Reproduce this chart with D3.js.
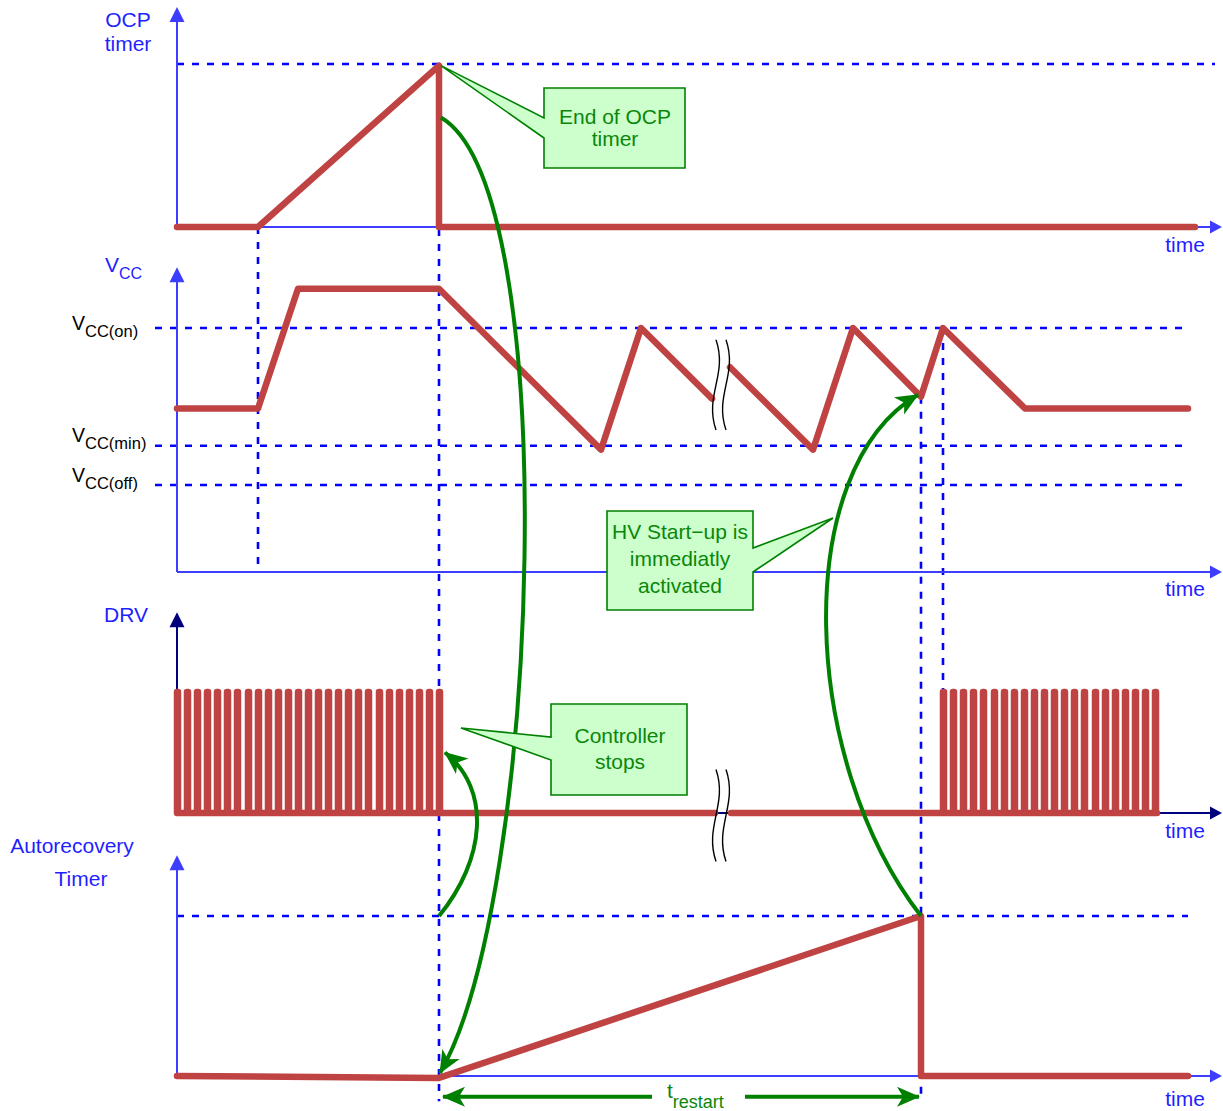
<!DOCTYPE html>
<html><head><meta charset="utf-8">
<script src="https://cdn.jsdelivr.net/npm/d3@7"></script>
<style>body{margin:0;background:#fff}svg{display:block}text{font-family:"Liberation Sans",Arial,sans-serif}</style>
</head><body><svg id="c" width="1223" height="1111"></svg>
<script>
// ---------- data (time in arbitrary units) ----------
const ocpTime  = [0, 8.1, 26.2, 26.2, 101.8];
const ocpValue = [0, 0, 0.99, 0, 0];

const vccTimeA  = [0, 8.1, 12.1, 26.2, 42.4, 46.4, 53.5];
const vccValueA = [11.9, 11.9, 18, 18, 9.8, 16, 12.4];
const vccTimeB  = [55.3, 63.6, 67.6, 74.4, 76.6, 84.8, 101.1];
const vccValueB = [14.0, 9.8, 16, 12.5, 16, 11.9, 11.9];
const vccLevelNames  = ["CC(on)", "CC(min)", "CC(off)"];
const vccLevelValues = [16, 10, 8];

const drvPulsesA = [0, 1.0, 2.0, 3.0, 4.0, 5.0, 6.0, 7.1, 8.1, 9.1, 10.1, 11.1, 12.1, 13.1,
  14.1, 15.1, 16.1, 17.1, 18.1, 19.1, 20.2, 21.2, 22.2, 23.2, 24.2, 25.2, 26.2];
const drvPulsesB = [76.6, 77.6, 78.6, 79.6, 80.6, 81.7, 82.7, 83.7, 84.7, 85.7, 86.7, 87.7,
  88.7, 89.7, 90.7, 91.8, 92.8, 93.8, 94.8, 95.8, 96.8, 97.8];
const drvBreak = [53.8, 55.4];

const autoTime  = [0, 26.2, 74.4, 74.4, 101.1];
const autoValue = [0, -0.012, 1, 0, 0];

// ---------- scales ----------
const x = d3.scaleLinear().domain([0, 104.5]).range([177, 1222]);
const yOcp  = d3.scaleLinear().domain([0, 1]).range([227, 64]);
const yVcc  = d3.scaleLinear().domain([8, 16]).range([485, 328]);
const yDrv  = d3.scaleLinear().domain([0, 1]).range([813, 692]);
const yAuto = d3.scaleLinear().domain([0, 1]).range([1076, 916]);

const RED = "#c04343", BLUE = "#0000ff", AXIS = "#3d3dff", NAVY = "#00007f",
      GREEN = "#008000", GTEXT = "#0a870a", FILL = "#ccffcc", LBL = "#1f1fff";

const svg = d3.select("#c");
const defs = svg.append("defs");
defs.append("marker").attr("id", "ga").attr("markerUnits", "userSpaceOnUse")
  .attr("viewBox", "-24 -11 26 22").attr("refX", 0).attr("refY", 0)
  .attr("markerWidth", 26).attr("markerHeight", 22).attr("orient", "auto-start-reverse")
  .append("path").attr("d", "M1,0 L-22,-10 L-16,0 L-22,10 Z").attr("fill", GREEN);

// ---------- dashed reference lines ----------
const gDash = svg.append("g").attr("stroke", BLUE).attr("stroke-width", 2.6)
  .attr("stroke-dasharray", "7,8").attr("fill", "none");
function hd(y, t0, t1) { gDash.append("line").attr("x1", x(t0)).attr("x2", x(t1)).attr("y1", y).attr("y2", y); }
function vd(t, y0, y1) { gDash.append("line").attr("x1", x(t)).attr("x2", x(t)).attr("y1", y0).attr("y2", y1); }
hd(yOcp(1), 0, 103.8);
vccLevelValues.forEach(v => hd(yVcc(v), -2.2, 101.1));
hd(yAuto(1), 0, 101.1);
vd(8.1, yOcp(0), yVcc(3.57));
vd(26.2, yOcp(1), yAuto(-0.158));
vd(74.4, yVcc(12.5), yAuto(-0.158));
vd(76.6, yVcc(16), yDrv(1));

// ---------- axes ----------
function axis(yScale, base, top, color) {
  const g = svg.append("g");
  const xb = x(0), yb = yScale(base), yt = yScale(top), xr = x(104.5);
  g.append("line").attr("x1", xb).attr("x2", xb).attr("y1", yb).attr("y2", yt + 10)
    .attr("stroke", color).attr("stroke-width", 2);
  g.append("line").attr("x1", xb).attr("x2", xr - 8).attr("y1", yb).attr("y2", yb)
    .attr("stroke", color).attr("stroke-width", 2);
  g.append("path").attr("d", `M${xb},${yt} L${xb - 7.5},${yt + 15} L${xb + 7.5},${yt + 15} Z`).attr("fill", color);
  g.append("path").attr("d", `M${xr},${yb} L${xr - 12},${yb - 6.5} L${xr - 12},${yb + 6.5} Z`).attr("fill", color);
}
axis(yOcp, 0, 1.35, AXIS);
axis(yVcc, 3.57, 19.1, AXIS);
axis(yDrv, 0, 1.66, NAVY);
axis(yAuto, 0, 1.38, AXIS);

// ---------- traces ----------
const red = d => svg.append("path").attr("d", d).attr("fill", "none").attr("stroke", RED)
  .attr("stroke-width", 6.5).attr("stroke-linejoin", "round").attr("stroke-linecap", "round");
const line = (ys) => d3.line().x(d => x(d[0])).y(d => ys(d[1]));
red(line(yOcp)(d3.zip(ocpTime, ocpValue)));
red(line(yVcc)(d3.zip(vccTimeA, vccValueA)));
red(line(yVcc)(d3.zip(vccTimeB, vccValueB)));
red(line(yAuto)(d3.zip(autoTime, autoValue)));

function pulsePts(pulses, start, end) {
  const pts = [[start, 0]];
  pulses.forEach(p => { pts.push([p, 0], [p, 1], [p + 0.1, 1], [p + 0.1, 0]); });
  pts.push([end, 0]);
  return pts;
}
red(line(yDrv)(pulsePts(drvPulsesA, 0, drvBreak[0])));
red(line(yDrv)([[drvBreak[1], 0]].concat(pulsePts(drvPulsesB, drvPulsesB[0], drvPulsesB[drvPulsesB.length - 1] + 0.2))));

// ---------- break marks ----------
function brk(t, y0, y1) {
  [0, 1].forEach(i => {
    const xx = x(t) + i * 10;
    svg.append("path").attr("d", `M${xx},${y0} C${xx + 12},${y0 + 35} ${xx - 12},${y1 - 35} ${xx},${y1}`)
      .attr("fill", "none").attr("stroke", "#000").attr("stroke-width", 1.4);
  });
}
brk(53.9, yVcc(15.4), yVcc(10.8));
brk(53.9, yDrv(0.36), yDrv(-0.4));

// ---------- green curved arrows ----------
const gArrow = (d) => svg.append("path").attr("d", d).attr("fill", "none").attr("stroke", GREEN)
  .attr("stroke-width", 4).attr("marker-end", "url(#ga)");
gArrow(`M${x(26.4)},${yOcp(0.672)} C565,190 540,900 ${x(26.4) - 1},${yAuto(0) - 3}`);
gArrow(`M${x(26.2)},${yAuto(1)} C485,860 492,790 ${x(26.8)},${yDrv(0.5)}`);
gArrow(`M${x(74.4)},${yAuto(1)} C800,760 790,470 ${x(74.1)},${yVcc(12.6)}`);

// t_restart
const yR = yAuto(-0.13);
svg.append("path").attr("d", `M${x(24.1)},${yR} L${x(26.4)},${yR}`).attr("stroke", "none");
svg.append("line").attr("x1", x(47.5)).attr("x2", x(26.6)).attr("y1", yR).attr("y2", yR)
  .attr("stroke", GREEN).attr("stroke-width", 4).attr("marker-end", "url(#ga)");
svg.append("line").attr("x1", x(56.8)).attr("x2", x(74.2)).attr("y1", yR).attr("y2", yR)
  .attr("stroke", GREEN).attr("stroke-width", 4).attr("marker-end", "url(#ga)");
svg.append("text").attr("x", 667).attr("y", 1098).attr("fill", GTEXT).attr("font-size", 21)
  .text("t").append("tspan").attr("dy", 10).attr("font-size", 18).text("restart");

// ---------- callouts ----------
function callout(x0, y0, x1, y1, side, n0, n1, tip, lines, cx, base, lh) {
  let d;
  if (side === "left") d = `M${x0},${y0} L${x1},${y0} L${x1},${y1} L${x0},${y1} L${x0},${n1} L${tip[0]},${tip[1]} L${x0},${n0} Z`;
  else d = `M${x0},${y0} L${x1},${y0} L${x1},${n0} L${tip[0]},${tip[1]} L${x1},${n1} L${x1},${y1} L${x0},${y1} Z`;
  svg.append("path").attr("d", d).attr("fill", FILL).attr("stroke", GREEN).attr("stroke-width", 1.6);
  lines.forEach((s, i) => svg.append("text").attr("x", cx).attr("y", base + i * lh)
    .attr("text-anchor", "middle").attr("fill", GTEXT).attr("font-size", 21).text(s));
}
callout(544, 88, 685, 168, "left", 118, 138, [x(26.4), yOcp(0.99)], ["End of OCP", "timer"], 615, 124, 22);
callout(607, 511, 753, 610, "right", 548, 572, [833, 518], ["HV Start\u2212up is", "immediatly", "activated"], 680, 539, 27);
callout(551, 704, 687, 795, "left", 737, 760, [461, 728], ["Controller", "stops"], 620, 743, 26);

// ---------- labels ----------
const T = (xx, yy, s, opt = {}) => svg.append("text").attr("x", xx).attr("y", yy).attr("fill", opt.c || LBL)
  .attr("font-size", opt.fs || 21).attr("text-anchor", opt.a || "start").text(s);
T(128, 27, "OCP", { a: "middle" });
T(128, 51, "timer", { a: "middle" });
T(126, 622, "DRV", { a: "middle" });
T(72, 853, "Autorecovery", { a: "middle" });
T(81, 886, "Timer", { a: "middle" });
const vl = T(105, 272, "V");
vl.append("tspan").attr("dy", 7).attr("font-size", 16).text("CC");
[252, 596, 838, 1106].forEach(yy => T(1185, yy, "time", { a: "middle" }));

const levelDy = [2, -4, -3];
vccLevelNames.forEach((n, i) => {
  const t = T(72, yVcc(vccLevelValues[i]) + levelDy[i], "V", { c: "#000", fs: 19.5 });
  t.append("tspan").attr("dy", 7).attr("font-size", 16.5).text(n);
});
</script></body></html>
